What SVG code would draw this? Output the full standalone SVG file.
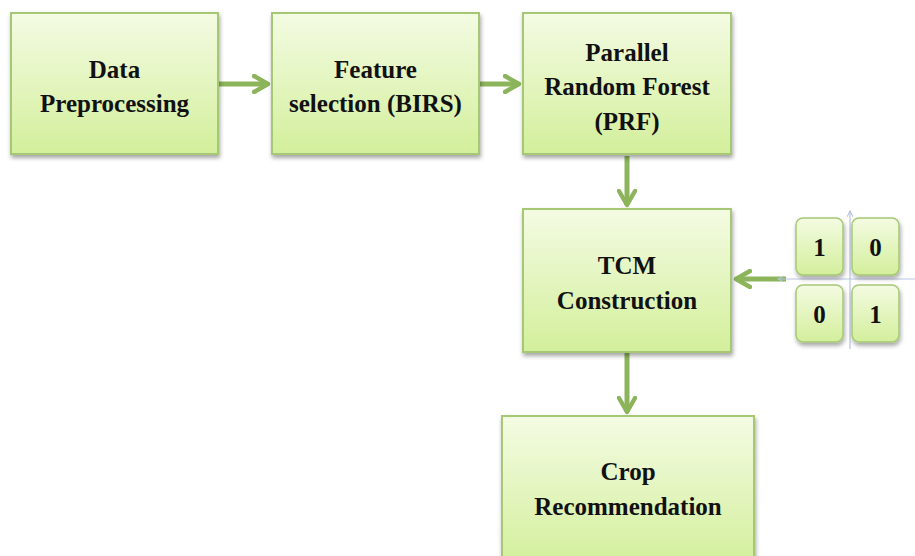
<svg xmlns="http://www.w3.org/2000/svg" width="915" height="556" viewBox="0 0 915 556">
<defs>
<linearGradient id="g" x1="0" y1="0" x2="0" y2="1">
<stop offset="0" stop-color="#f4fbe3"/>
<stop offset="1" stop-color="#d3ef9b"/>
</linearGradient>
<filter id="sh" x="-10%" y="-10%" width="125%" height="125%">
<feDropShadow dx="1" dy="3" stdDeviation="2" flood-color="#000" flood-opacity="0.35"/>
</filter>
<marker id="ah" viewBox="0 0 10 10" refX="8" refY="5" markerWidth="4" markerHeight="4" orient="auto" markerUnits="strokeWidth">
<path d="M1,1 L8,5 L1,9" fill="none" stroke="#8cb45a" stroke-width="2.2" stroke-linecap="round" stroke-linejoin="round"/>
</marker>
<marker id="ax" viewBox="0 0 10 10" refX="9" refY="5" markerWidth="6" markerHeight="6" orient="auto">
<path d="M1,1 L9,5 L1,9" fill="none" stroke="#b7c4de" stroke-width="1.5"/>
</marker>
</defs>
<rect width="915" height="556" fill="#fff"/>
<g id="connectors" stroke="#8cb45a" stroke-width="5" fill="none" marker-end="url(#ah)">
<line x1="219" y1="84" x2="268" y2="84"/>
<line x1="480" y1="84" x2="519" y2="84"/>
<line x1="627" y1="156" x2="627" y2="205"/>
<line x1="627" y1="353" x2="627" y2="412"/>
<line x1="786" y1="279" x2="736" y2="279"/>
</g>
<g font-family="Liberation Serif" font-weight="bold" font-size="25" fill="#111" text-anchor="middle">
<g id="data-preprocessing">
<rect x="11" y="13" width="207" height="141" fill="url(#g)" stroke="#a6c875" stroke-width="2" filter="url(#sh)"/>
<text x="114.5" y="78">Data</text>
<text x="114.5" y="112">Preprocessing</text>
</g>
<g id="feature-selection">
<rect x="272" y="13" width="207" height="141" fill="url(#g)" stroke="#a6c875" stroke-width="2" filter="url(#sh)"/>
<text x="375.5" y="78">Feature</text>
<text x="375.5" y="112">selection (BIRS)</text>
</g>
<g id="prf">
<rect x="523" y="13" width="208" height="141" fill="url(#g)" stroke="#a6c875" stroke-width="2" filter="url(#sh)"/>
<text x="627" y="61">Parallel</text>
<text x="627" y="95">Random Forest</text>
<text x="627" y="130">(PRF)</text>
</g>
<g id="tcm">
<rect x="523" y="209" width="208" height="143" fill="url(#g)" stroke="#a6c875" stroke-width="2" filter="url(#sh)"/>
<text x="627" y="274">TCM</text>
<text x="627" y="309">Construction</text>
</g>
<g id="crop">
<rect x="502" y="416" width="252" height="150" fill="url(#g)" stroke="#a6c875" stroke-width="2" filter="url(#sh)"/>
<text x="628" y="480">Crop</text>
<text x="628" y="515">Recommendation</text>
</g>
<g id="matrix">
<line x1="850" y1="349" x2="850" y2="211" stroke="#b7c4de" stroke-width="1.2" marker-end="url(#ax)"/>
<line x1="915" y1="279" x2="778" y2="279" stroke="#b7c4de" stroke-width="1.2" marker-end="url(#ax)"/>
<rect x="796" y="218" width="47" height="57" rx="7" fill="url(#g)" stroke="#a6c875" stroke-width="1.5" filter="url(#sh)"/>
<rect x="852" y="218" width="47" height="57" rx="7" fill="url(#g)" stroke="#a6c875" stroke-width="1.5" filter="url(#sh)"/>
<rect x="796" y="285" width="47" height="57" rx="7" fill="url(#g)" stroke="#a6c875" stroke-width="1.5" filter="url(#sh)"/>
<rect x="852" y="285" width="47" height="57" rx="7" fill="url(#g)" stroke="#a6c875" stroke-width="1.5" filter="url(#sh)"/>
<text x="819.5" y="256">1</text>
<text x="875.5" y="256">0</text>
<text x="819.5" y="323">0</text>
<text x="875.5" y="323">1</text>
</g>
</g>
</svg>
